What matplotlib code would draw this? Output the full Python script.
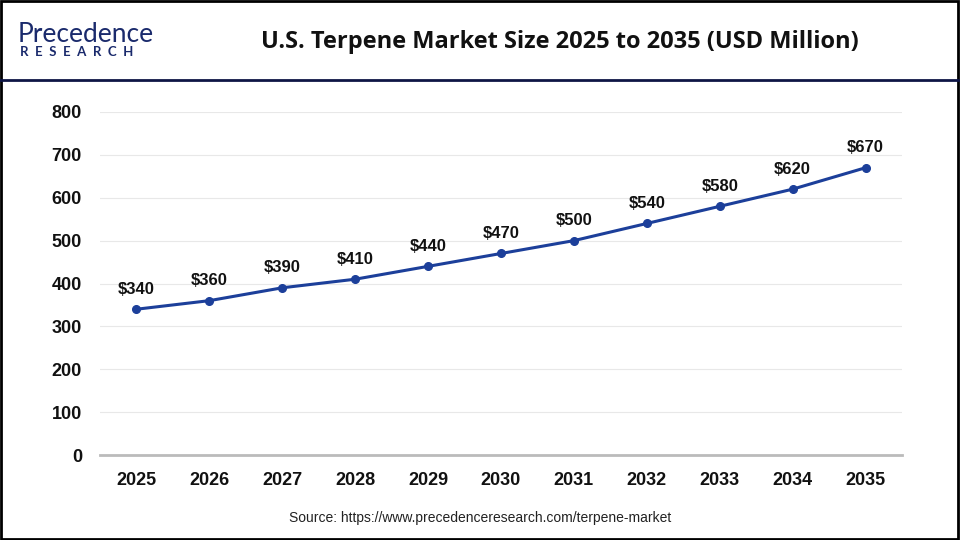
import matplotlib
matplotlib.use("Agg")
import matplotlib.pyplot as plt
from matplotlib.patches import Rectangle
from matplotlib.lines import Line2D

years = ["2025", "2026", "2027", "2028", "2029", "2030", "2031", "2032", "2033", "2034", "2035"]
values = [340, 360, 390, 410, 440, 470, 500, 540, 580, 620, 670]
yticks = [0, 100, 200, 300, 400, 500, 600, 700, 800]

plt.rcParams['font.family'] = ['Liberation Sans', 'DejaVu Sans']

fig = plt.figure(figsize=(9.6, 5.4), dpi=100)
ax = fig.add_axes([100/960, 1-455/540, 802/960, 343/540])

x = list(range(len(years)))
line_color = "#1c3f9a"
ax.plot(x, values, color=line_color, linewidth=2.2, marker="o", markersize=5.5, zorder=3)
for xi, v in zip(x, values):
    ax.annotate(f"${v}", (xi, v), xytext=(0, 9), textcoords="offset points",
                ha="center", va="bottom", fontsize=12, fontweight="bold", color="#111111")

ax.set_xlim(-0.5, len(years) - 0.5)
ax.set_ylim(0, 800)
ax.set_yticks(yticks)
ax.set_xticks(x)
ax.set_xticklabels(years)
ax.tick_params(axis="both", length=0, labelsize=13)
for lab in ax.get_xticklabels() + ax.get_yticklabels():
    lab.set_fontweight("bold")
    lab.set_color("#111111")
ax.tick_params(axis="x", pad=12)
ax.tick_params(axis="y", pad=13)
ax.grid(axis="y", color="#e8e8e8", linewidth=0.8)
ax.set_axisbelow(True)
for s in ["top", "right", "left"]:
    ax.spines[s].set_visible(False)
ax.spines["bottom"].set_color("#bbbbbb")
ax.spines["bottom"].set_linewidth(2)

# Title
fig.text(0.583, 1-42/540, "U.S. Terpene Market Size 2025 to 2035 (USD Million)",
         ha="center", va="center", fontsize=17, fontweight="bold", color="#111111",
         family=["Open Sans", "DejaVu Sans"])

# Logo
fig.text(18/960, 1-35/540, "Precedence", ha="left", va="center", fontsize=19,
         color="#1a2a6c", family=["Lato", "DejaVu Sans"])
fig.text(20/960, 1-52/540, "R  E  S  E  A  R  C  H", ha="left", va="center", fontsize=9.5,
         fontweight="bold", color="#1a2a6c", family=["Lato", "DejaVu Sans"])

# Header separator line
fig.add_artist(Line2D([0, 1], [1-80/540, 1-80/540], transform=fig.transFigure,
                      color="#0e1545", linewidth=2))

# Source
fig.text(0.5, 1-518/540, "Source: https://www.precedenceresearch.com/terpene-market",
         ha="center", va="center", fontsize=10, color="#222222")

# Border
fig.add_artist(Rectangle((0.001, 0.002), 0.997, 0.996, transform=fig.transFigure,
                         fill=False, edgecolor="black", linewidth=2))

fig.savefig("out.png", dpi=100)
